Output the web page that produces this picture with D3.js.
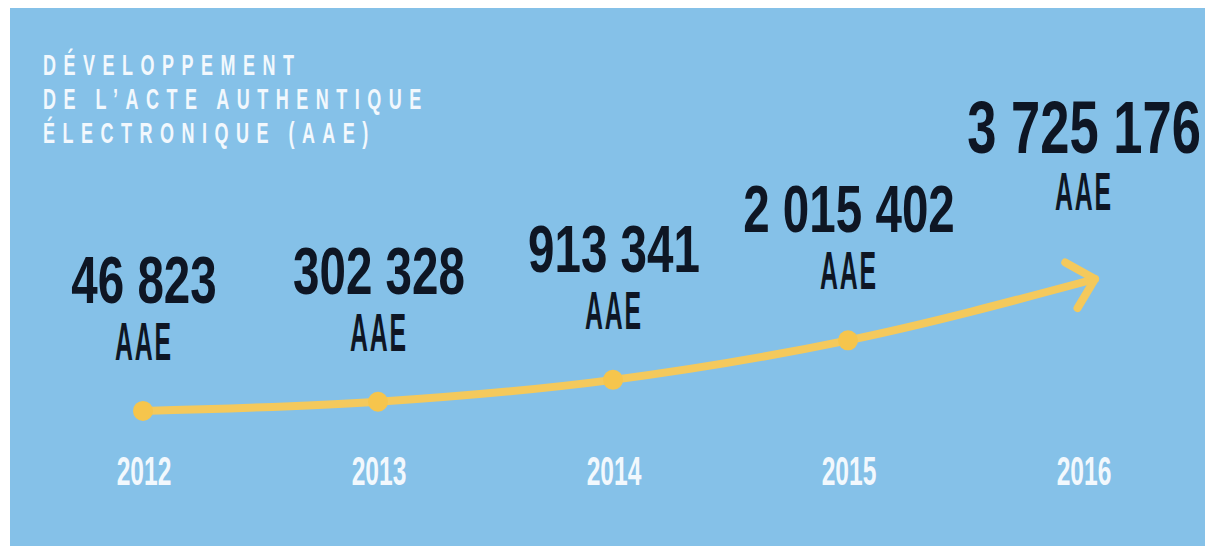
<!DOCTYPE html>
<html><head><meta charset="utf-8">
<script src="https://cdn.jsdelivr.net/npm/d3@7"></script>
<style>html,body{margin:0;padding:0;background:#fff;} svg{display:block}</style>
</head><body>
<script>
// ---- data ----
const years = ["2012", "2013", "2014", "2015", "2016"];
const values = [46823, 302328, 913341, 2015402, 3725176];
const valueLabels = ["46 823", "302 328", "913 341", "2 015 402", "3 725 176"];
const unitLabel = "AAE";
const titleLines = ["DÉVELOPPEMENT", "DE L’ACTE AUTHENTIQUE", "ÉLECTRONIQUE (AAE)"];

// ---- layout ----
const W = 1205, H = 546;
const FONT = "'Liberation Sans', Arial, sans-serif";
const LINE_COLOR = "#F4C95C";
const DOT_COLOR = "#F6C54C";

const svg = d3.select("body").append("svg").attr("width", W).attr("height", H);
svg.append("rect").attr("x", 10).attr("y", 8).attr("width", W - 10).attr("height", H - 8).attr("fill", "#85C1E8");

const x = d3.scalePoint().domain(years).range([144, 1084]);
const y = d3.scaleLinear().domain([0, d3.max(values)]).range([412.6, 279]);
const last = years.length - 1;

// ---- title ----
const title = svg.append("g").attr("transform", "translate(43,0)");
titleLines.forEach((t, i) => {
  title.append("text")
    .attr("transform", `translate(0,${75 + i * 34}) scale(0.6,1)`)
    .attr("font-family", FONT).attr("font-weight", "bold")
    .attr("font-size", 30).attr("letter-spacing", 12.5)
    .attr("fill", "#F2F8FD")
    .text(t);
});

// ---- line ----
const pts = years.map((yr, i) => [x(yr) + (i === last ? 11 : -1), y(values[i])]);
const lineGen = d3.line().curve(d3.curveMonotoneX);
const path = svg.append("path")
  .attr("d", lineGen(pts))
  .attr("fill", "none")
  .attr("stroke", LINE_COLOR)
  .attr("stroke-width", 8)
  .attr("stroke-linecap", "round");

// arrow head
const node = path.node();
const L = node.getTotalLength();
const p1 = node.getPointAtLength(L), p0 = node.getPointAtLength(L - 12);
const ang = Math.atan2(p1.y - p0.y, p1.x - p0.x) + Math.PI;
const spread = 44 * Math.PI / 180, armLen = 34;
const a1 = [p1.x + armLen * Math.cos(ang - spread), p1.y + armLen * Math.sin(ang - spread)];
const a2 = [p1.x + armLen * Math.cos(ang + spread), p1.y + armLen * Math.sin(ang + spread)];
svg.append("path")
  .attr("d", d3.line()([a1, [p1.x, p1.y], a2]))
  .attr("fill", "none")
  .attr("stroke", LINE_COLOR)
  .attr("stroke-width", 8)
  .attr("stroke-linecap", "round")
  .attr("stroke-linejoin", "round");

// dots
svg.selectAll("circle.dot")
  .data(pts.slice(0, last))
  .join("circle")
  .attr("class", "dot")
  .attr("cx", d => d[0]).attr("cy", d => d[1])
  .attr("r", 10)
  .attr("fill", DOT_COLOR);

// ---- value labels ----
years.forEach((yr, i) => {
  const big = i === last;
  const base = y(values[i]) - (big ? 126 : 108);
  const g = svg.append("g").attr("transform", `translate(${x(yr)},${base})`);
  g.append("text")
    .attr("transform", "scale(0.71,1)")
    .attr("text-anchor", "middle")
    .attr("font-family", FONT).attr("font-weight", "bold")
    .attr("font-size", big ? 74 : 67)
    .attr("fill", "#0E1624")
    .text(valueLabels[i]);
  g.append("text")
    .attr("transform", "translate(0,57) scale(0.46,1)")
    .attr("text-anchor", "middle")
    .attr("font-family", FONT).attr("font-weight", "bold")
    .attr("font-size", 54).attr("letter-spacing", 4)
    .attr("fill", "#0E1624")
    .text(unitLabel);
});

// ---- year axis labels ----
svg.append("g").selectAll("g")
  .data(years)
  .join("g")
  .attr("transform", d => `translate(${x(d)},485)`)
  .append("text")
  .attr("transform", "scale(0.6,1)")
  .attr("text-anchor", "middle")
  .attr("font-family", FONT).attr("font-weight", "bold")
  .attr("font-size", 41)
  .attr("fill", "#F2F8FD")
  .text(d => d);
</script>
</body></html>
